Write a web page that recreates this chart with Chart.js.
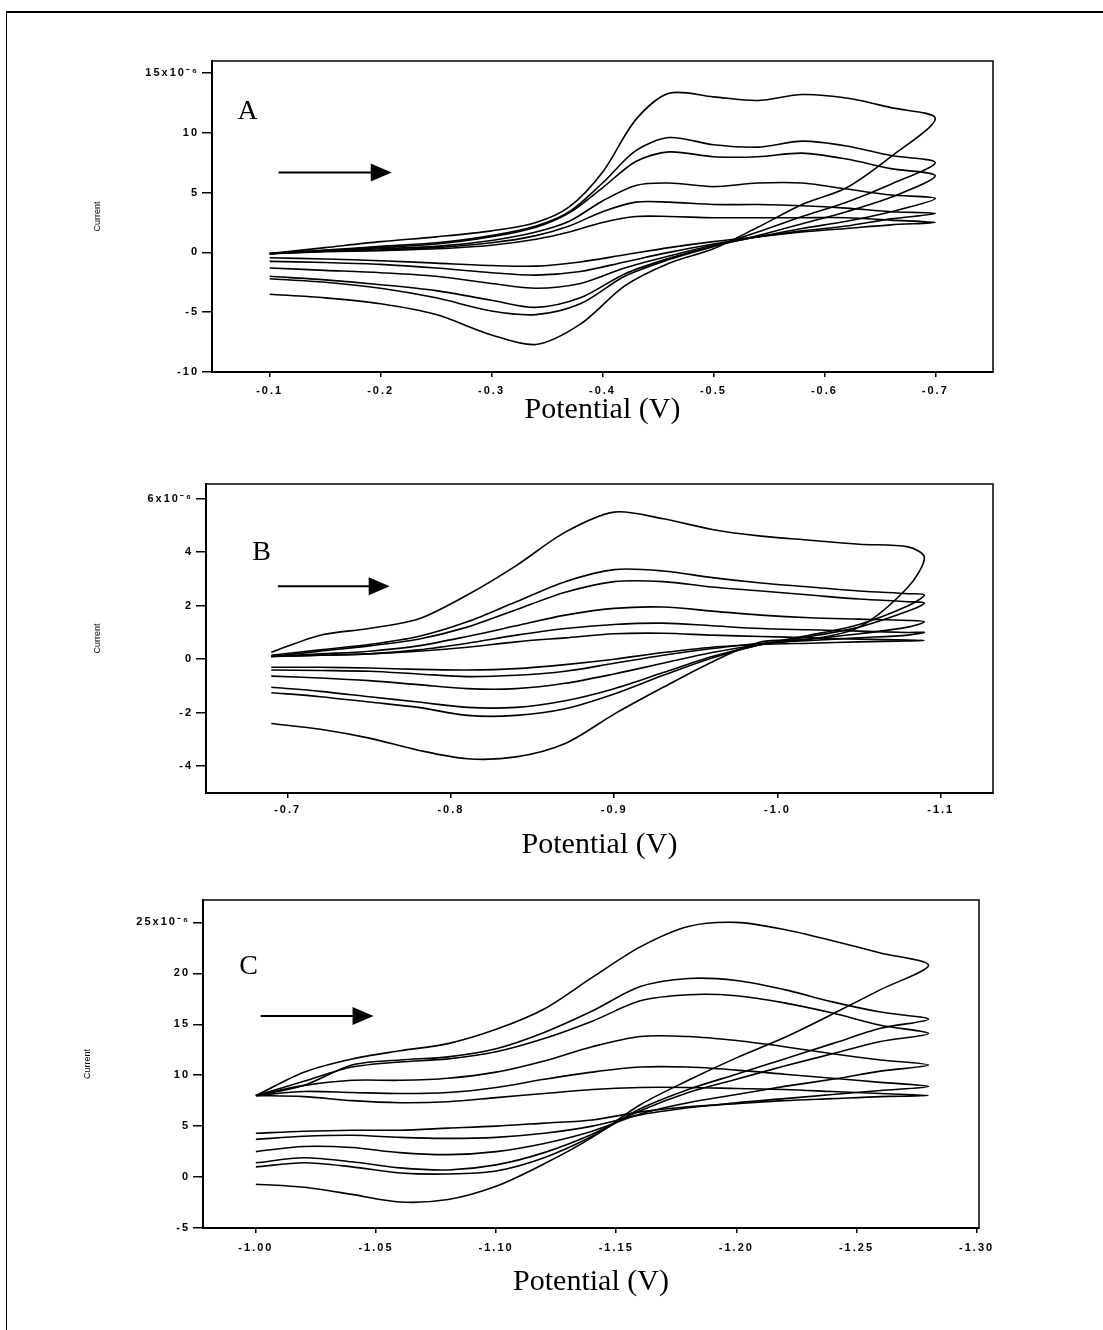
<!DOCTYPE html>
<html>
<head>
<meta charset="utf-8">
<script src="https://cdn.jsdelivr.net/npm/chart.js@4/dist/chart.umd.min.js"></script>
<style>
    body { margin: 0; background: #fff; width: 1103px; height: 1330px; position: relative; overflow: hidden; }
    .frame { position: absolute; left: 6px; top: 11px; width: 1110px; height: 1330px; border-top: 2px solid #000; border-left: 1.5px solid #000; }
    .panel { position: absolute; left: 40px; width: 1010px; }
</style>
</head>
<body>
<div class="frame"></div>
<div class="panel" style="top:40px;height:400px"><canvas id="chartA"></canvas></div>
<div class="panel" style="top:460px;height:405px"><canvas id="chartB"></canvas></div>
<div class="panel" style="top:880px;height:425px"><canvas id="chartC"></canvas></div>

<script>
/* ── Panel A: potential sweep (V) and currents (x10^-6 A), one array per scan ── */
const potA = [-0.10, -0.15, -0.20, -0.25, -0.30, -0.34, -0.37, -0.40, -0.43, -0.46, -0.50, -0.54, -0.58, -0.62, -0.66, -0.70,
              -0.66, -0.62, -0.58, -0.54, -0.50, -0.46, -0.42, -0.38, -0.34, -0.30, -0.25, -0.20, -0.15, -0.10];
const curA1 = [-0.1, 0.05, 0.15, 0.3, 0.6, 1.1, 1.7, 2.5, 3.0, 3.0, 2.9, 2.9, 2.9, 2.9, 2.7, 2.5,
               2.3, 2.0, 1.7, 1.3, 0.9, 0.4, -0.2, -0.8, -1.15, -1.1, -0.9, -0.7, -0.55, -0.45];
const curA2 = [-0.1, 0.1, 0.2, 0.4, 0.8, 1.4, 2.2, 3.4, 4.2, 4.2, 4.0, 4.0, 3.9, 3.7, 3.4, 3.25,
               2.8, 2.2, 1.8, 1.3, 0.7, 0.0, -0.8, -1.6, -1.9, -1.7, -1.3, -1.0, -0.85, -0.75];
const curA3 = [-0.1, 0.1, 0.3, 0.5, 1.0, 1.7, 2.6, 4.3, 5.6, 5.8, 5.5, 5.8, 5.8, 5.3, 4.8, 4.5,
               3.4, 2.6, 2.0, 1.3, 0.6, -0.3, -1.3, -2.6, -3.0, -2.6, -2.0, -1.7, -1.5, -1.3];
const curA4 = [-0.1, 0.15, 0.4, 0.7, 1.3, 2.1, 3.3, 5.4, 7.6, 8.4, 8.0, 8.0, 8.3, 7.8, 7.0, 6.4,
               4.6, 3.4, 2.4, 1.4, 0.5, -0.5, -1.8, -3.8, -4.6, -4.0, -3.2, -2.7, -2.3, -2.0];
const curA5 = [-0.1, 0.2, 0.5, 0.8, 1.4, 2.2, 3.4, 5.8, 8.5, 9.6, 9.0, 8.8, 9.3, 8.9, 8.1, 7.5,
               5.7, 4.2, 3.0, 1.7, 0.5, -0.6, -2.0, -4.3, -5.2, -4.9, -3.8, -3.0, -2.5, -2.2];
const curA6 = [-0.1, 0.4, 0.9, 1.3, 1.8, 2.5, 3.8, 6.7, 11.1, 13.3, 13.0, 12.7, 13.2, 12.9, 12.1, 11.2,
               8.0, 5.4, 4.0, 2.1, 0.3, -0.9, -2.8, -6.0, -7.7, -6.9, -5.2, -4.3, -3.8, -3.5];
const xTicksA = [-0.1, -0.2, -0.3, -0.4, -0.5, -0.6, -0.7];
const yTicksA = [-10, -5, 0, 5, 10, 15];

/* ── Panel B ── */
const potB = [-0.69, -0.72, -0.75, -0.78, -0.81, -0.84, -0.87, -0.90, -0.93, -0.96, -0.99, -1.02, -1.05, -1.08, -1.09,
              -1.08, -1.05, -1.02, -0.99, -0.96, -0.93, -0.90, -0.87, -0.84, -0.81, -0.78, -0.75, -0.72, -0.69];
const curB1 = [0.1, 0.15, 0.2, 0.3, 0.45, 0.65, 0.8, 0.95, 0.97, 0.9, 0.85, 0.8, 0.75, 0.72, 0.7,
               0.68, 0.65, 0.6, 0.55, 0.45, 0.25, 0.0, -0.2, -0.35, -0.4, -0.38, -0.33, -0.3, -0.3];
const curB2 = [0.1, 0.15, 0.2, 0.35, 0.6, 0.9, 1.15, 1.3, 1.35, 1.25, 1.15, 1.1, 1.05, 1.0, 1.0,
               0.9, 0.8, 0.7, 0.6, 0.4, 0.15, -0.15, -0.45, -0.6, -0.65, -0.55, -0.45, -0.42, -0.4];
const curB3 = [0.1, 0.2, 0.3, 0.5, 0.85, 1.25, 1.65, 1.9, 1.95, 1.8, 1.65, 1.55, 1.5, 1.45, 1.4,
               1.2, 0.95, 0.75, 0.55, 0.25, -0.15, -0.55, -0.9, -1.1, -1.1, -0.95, -0.8, -0.7, -0.63];
const curB4 = [0.1, 0.3, 0.5, 0.75, 1.2, 1.85, 2.5, 2.9, 2.9, 2.7, 2.55, 2.4, 2.25, 2.15, 2.1,
               1.8, 1.2, 0.85, 0.55, 0.1, -0.5, -1.1, -1.55, -1.8, -1.8, -1.6, -1.4, -1.2, -1.05];
const curB5 = [0.15, 0.35, 0.55, 0.85, 1.4, 2.15, 2.9, 3.35, 3.3, 3.05, 2.85, 2.7, 2.55, 2.45, 2.4,
               2.0, 1.3, 0.9, 0.55, 0.05, -0.6, -1.3, -1.85, -2.1, -2.1, -1.8, -1.6, -1.4, -1.25];
const curB6 = [0.26, 0.9, 1.15, 1.5, 2.4, 3.5, 4.75, 5.5, 5.25, 4.85, 4.6, 4.45, 4.3, 4.2, 3.8,
               2.7, 1.2, 0.75, 0.65, -0.1, -1.05, -2.05, -3.15, -3.65, -3.72, -3.4, -2.95, -2.62, -2.4];
const xTicksB = [-0.7, -0.8, -0.9, -1.0, -1.1];
const yTicksB = [-4, -2, 0, 2, 4, 6];

/* ── Panel C ── */
const potC = [-1.00, -1.02, -1.04, -1.06, -1.08, -1.10, -1.12, -1.14, -1.16, -1.18, -1.20, -1.22, -1.24, -1.26, -1.28,
              -1.26, -1.24, -1.22, -1.20, -1.18, -1.16, -1.14, -1.12, -1.10, -1.08, -1.06, -1.04, -1.02, -1.00];
const curC1 = [8.0, 7.9, 7.5, 7.3, 7.4, 7.8, 8.2, 8.6, 8.8, 8.8, 8.7, 8.6, 8.4, 8.2, 8.0,
               7.9, 7.7, 7.5, 7.2, 6.9, 6.4, 5.6, 5.3, 5.0, 4.8, 4.6, 4.6, 4.5, 4.3];
const curC2 = [8.0, 8.4, 8.3, 8.2, 8.3, 8.8, 9.6, 10.3, 10.8, 10.8, 10.5, 10.1, 9.7, 9.3, 8.9,
               8.5, 8.1, 7.7, 7.3, 6.8, 6.1, 5.0, 4.3, 3.9, 3.8, 3.9, 4.1, 4.0, 3.7];
const curC3 = [8.0, 9.0, 9.5, 9.5, 9.7, 10.3, 11.4, 12.8, 13.8, 13.8, 13.4, 12.8, 12.1, 11.5, 11.0,
               10.4, 9.6, 8.9, 8.1, 7.3, 6.2, 4.5, 3.3, 2.5, 2.2, 2.4, 2.9, 3.0, 2.5];
const curC4 = [8.0, 9.4, 10.8, 11.3, 11.6, 12.3, 13.6, 15.3, 17.3, 17.9, 17.8, 17.1, 16.1, 14.9, 14.1,
               13.3, 12.1, 10.9, 9.6, 8.3, 6.5, 4.2, 2.4, 1.2, 0.7, 0.9, 1.5, 1.9, 1.4];
const curC5 = [8.0, 9.0, 11.0, 11.5, 11.8, 12.6, 14.2, 16.3, 18.7, 19.5, 19.3, 18.4, 17.2, 16.2, 15.5,
               14.6, 13.1, 11.6, 10.1, 8.6, 6.7, 4.0, 1.9, 0.6, 0.3, 0.4, 1.0, 1.4, 1.0];
const curC6 = [8.0, 10.3, 11.6, 12.4, 13.1, 14.5, 16.5, 19.6, 22.6, 24.6, 25.0, 24.3, 23.2, 22.0, 20.8,
               18.4, 16.0, 13.7, 11.7, 9.5, 7.1, 3.9, 1.3, -0.9, -2.2, -2.45, -1.7, -1.0, -0.7];
const xTicksC = [-1.00, -1.05, -1.10, -1.15, -1.20, -1.25, -1.30];
const yTicksC = [-5, 0, 5, 10, 15, 20, 25];

Chart.defaults.font.family = "'Liberation Sans', Arial, sans-serif";
Chart.defaults.color = '#000';

// ── Wide letter spacing for the tick labels only (they are drawn after the datasets, ticks.z = 1) ──
const spacedTicks = {
    id: 'spacedTicks',
    beforeDraw(chart) {
        chart.ctx.letterSpacing = '0px';
    },
    beforeDatasetsDraw(chart) {
        chart.ctx.letterSpacing = '2px';
    }
};

// ── Box around the plot, panel letter and scan-direction arrow ──
const panelDecor = {
    id: 'panelDecor',
    afterDraw(chart, args, opts) {
        const { ctx, chartArea: a, scales: { x, y } } = chart;
        ctx.letterSpacing = '0px';
        ctx.save();
        ctx.strokeStyle = '#000';
        ctx.fillStyle = '#000';
        ctx.lineWidth = 1.5;
        ctx.strokeRect(a.left, a.top, a.right - a.left, a.bottom - a.top);

        ctx.font = "28px 'Liberation Serif', 'Times New Roman', serif";
        ctx.textAlign = 'center';
        ctx.textBaseline = 'middle';
        ctx.fillText(opts.letter, x.getPixelForValue(opts.letterAt[0]), y.getPixelForValue(opts.letterAt[1]));

        const x0 = x.getPixelForValue(opts.arrowFrom);
        const x1 = x.getPixelForValue(opts.arrowTo);
        const ay = y.getPixelForValue(opts.arrowY);
        ctx.lineWidth = 2;
        ctx.beginPath();
        ctx.moveTo(x0, ay);
        ctx.lineTo(x1 - 18, ay);
        ctx.stroke();
        ctx.beginPath();
        ctx.moveTo(x1, ay);
        ctx.lineTo(x1 - 21, ay - 9);
        ctx.lineTo(x1 - 21, ay + 9);
        ctx.closePath();
        ctx.fill();
        ctx.restore();
    }
};

function makeCV(canvasId, pot, curves, cfg) {
    const canvas = document.getElementById(canvasId);
    const topTick = cfg.yTicks[cfg.yTicks.length - 1];

    return new Chart(canvas.getContext('2d'), {
        type: 'scatter',
        data: {
            datasets: curves.map(function (cur) {
                return {
                    data: pot.map(function (v, i) { return { x: v, y: cur[i] }; }),
                    showLine: true,
                    borderColor: '#000',
                    borderWidth: 1.6,
                    pointRadius: 0,
                    tension: 0.3,
                    fill: false,
                };
            })
        },
        options: {
            responsive: true,
            maintainAspectRatio: false,
            animation: false,
            events: [],
            layout: { padding: { top: cfg.padTop, right: cfg.padRight, left: 0, bottom: 0 } },
            scales: {
                x: {
                    type: 'linear',
                    reverse: true,
                    min: cfg.xMin,
                    max: cfg.xMax,
                    afterBuildTicks: function (s) { s.ticks = cfg.xTicks.map(function (v) { return { value: v }; }); },
                    afterFit: function (s) { s.height = cfg.xHeight; },
                    grid: { drawOnChartArea: false, tickLength: 5, color: '#000', lineWidth: 1.5 },
                    border: { color: '#000', width: 2 },
                    ticks: {
                        z: 1,
                        autoSkip: false,
                        maxRotation: 0,
                        padding: cfg.xLabelPad,
                        font: { size: 11, weight: 'bold' },
                        callback: function (v) { return v.toFixed(cfg.xDigits); },
                    },
                    title: {
                        display: true,
                        text: 'Potential (V)',
                        font: { family: "'Liberation Serif', 'Times New Roman', serif", size: 30 },
                        padding: { top: 0, bottom: cfg.xTitlePad },
                    }
                },
                y: {
                    type: 'linear',
                    min: cfg.yMin,
                    max: cfg.yMax,
                    afterBuildTicks: function (s) { s.ticks = cfg.yTicks.map(function (v) { return { value: v }; }); },
                    afterFit: function (s) { s.width = cfg.yWidth; },
                    grid: { drawOnChartArea: false, tickLength: 10, color: '#000', lineWidth: 1.5 },
                    border: { color: '#000', width: 2 },
                    ticks: {
                        z: 1,
                        autoSkip: false,
                        padding: 3,
                        font: { size: 11, weight: 'bold' },
                        callback: function (v) { return v === topTick ? v + 'x10\u207B\u2076' : String(v); },
                    },
                    title: {
                        display: true,
                        text: 'Current',
                        font: { size: 9 },
                        padding: { top: cfg.yTitlePad, bottom: 0 },
                    }
                }
            },
            plugins: {
                legend: { display: false },
                tooltip: { enabled: false },
                panelDecor: cfg.decor,
            }
        },
        plugins: [spacedTicks, panelDecor]
    });
}

makeCV('chartA', potA, [curA1, curA2, curA3, curA4, curA5, curA6], {
    xMin: -0.752, xMax: -0.048, yMin: -10, yMax: 16,
    xTicks: xTicksA, yTicks: yTicksA, xDigits: 1,
    padTop: 21, padRight: 57, yWidth: 172, xHeight: 68,
    xLabelPad: 7, xTitlePad: 12, yTitlePad: 52,
    decor: { letter: 'A', letterAt: [-0.080, 11.75], arrowFrom: -0.108, arrowTo: -0.210, arrowY: 6.67 }
});

makeCV('chartB', potB, [curB1, curB2, curB3, curB4, curB5, curB6], {
    xMin: -1.132, xMax: -0.650, yMin: -5, yMax: 6.55,
    xTicks: xTicksB, yTicks: yTicksB, xDigits: 1,
    padTop: 24, padRight: 57, yWidth: 166, xHeight: 72,
    xLabelPad: 5, xTitlePad: 2, yTitlePad: 52,
    decor: { letter: 'B', letterAt: [-0.684, 3.97], arrowFrom: -0.694, arrowTo: -0.7625, arrowY: 2.73 }
});

makeCV('chartC', potC, [curC1, curC2, curC3, curC4, curC5, curC6], {
    xMin: -1.301, xMax: -0.978, yMin: -5, yMax: 27.2,
    xTicks: xTicksC, yTicks: yTicksC, xDigits: 2,
    padTop: 20, padRight: 71, yWidth: 163, xHeight: 77,
    xLabelPad: 8, xTitlePad: 5, yTitlePad: 42,
    decor: { letter: 'C', letterAt: [-0.997, 20.7], arrowFrom: -1.002, arrowTo: -1.049, arrowY: 15.8 }
});
</script>
</body>
</html>
